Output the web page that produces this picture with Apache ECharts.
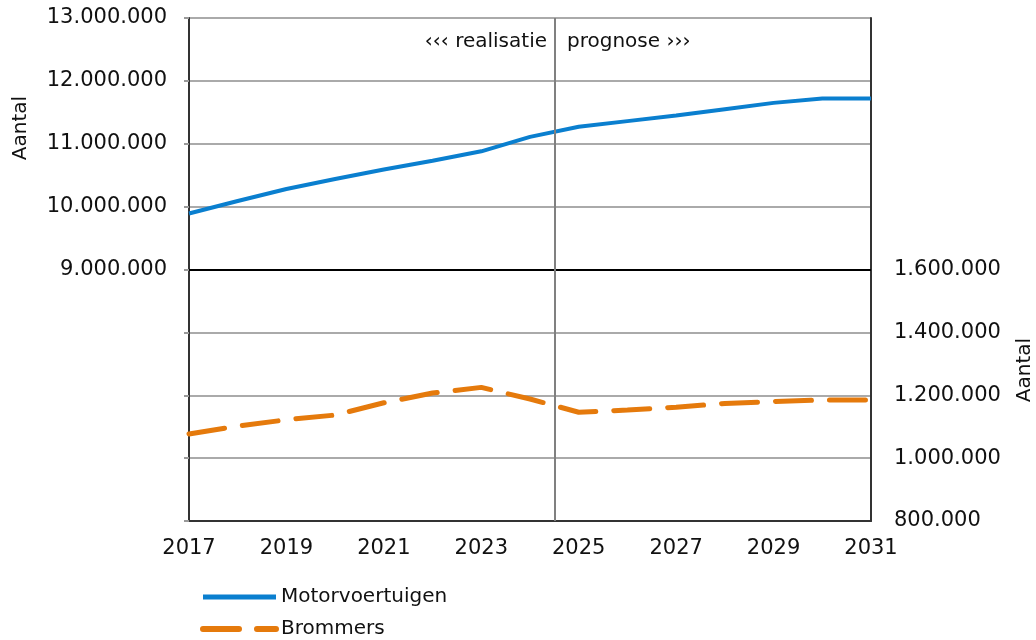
<!DOCTYPE html>
<html>
<head>
<meta charset="utf-8">
<script src="https://cdn.jsdelivr.net/npm/echarts@6/dist/echarts.min.js"></script>
<style>
html, body { margin: 0; padding: 0; background: #fff; }
#chart { width: 1036px; height: 640px; }
</style>
</head>
<body>
<div id="chart"></div>
<script>
var years = [2017, 2018, 2019, 2020, 2021, 2022, 2023, 2024, 2025, 2026, 2027, 2028, 2029, 2030, 2031];
var motorvoertuigen = [9890000, 10090000, 10280000, 10440000, 10590000, 10730000, 10880000, 11110000, 11270000, 11360000, 11450000, 11550000, 11650000, 11720000, 11720000];
var brommers = [1077000, 1102000, 1122000, 1137000, 1176000, 1207000, 1225000, 1188000, 1146000, 1153000, 1162000, 1174000, 1180000, 1185000, 1185000];
var splitYear = 2024.5;

var font = 'DejaVu Sans';
var txt = '#111';
var dom = document.getElementById('chart');
var myChart = echarts.init(dom);

function fmt(v) {
	return String(v).replace(/\B(?=(\d{3})+(?!\d))/g, '.');
}

var motorData = [], bromData = [];
for (var i = 0; i < years.length; i++) {
	motorData.push([years[i], motorvoertuigen[i]]);
	bromData.push([years[i], brommers[i]]);
}

var option = {
	animation: false,
	grid: { left: 189, right: 165, top: 18, bottom: 119 },
	legend: {
		orient: 'vertical',
		left: 200,
		top: 587,
		padding: 0,
		itemWidth: 73,
		itemHeight: 20,
		itemGap: 12,
		itemStyle: { color: 'transparent', borderColor: 'transparent', borderWidth: 0 },
		textStyle: { fontFamily: font, fontSize: 20, color: txt },
		data: [
			{ name: 'Motorvoertuigen', lineStyle: { width: 5 } },
			{ name: 'Brommers', lineStyle: { width: 6 } }
		]
	},
	xAxis: {
		type: 'value',
		min: 2017,
		max: 2031,
		interval: 2,
		axisLine: { lineStyle: { color: '#333', width: 2 } },
		axisTick: { show: false },
		splitLine: { show: false },
		axisLabel: { fontFamily: font, fontSize: 21, color: txt, margin: 17, formatter: function (v) { return String(v); } }
	},
	yAxis: [{
		type: 'value',
		min: 5000000,
		max: 13000000,
		interval: 1000000,
		axisLine: { show: true, lineStyle: { color: '#333', width: 2 } },
		axisTick: { show: true, length: 5, lineStyle: { color: '#999', width: 2 } },
		splitLine: { lineStyle: { color: '#aaa', width: 2 } },
		axisLabel: {
			fontFamily: font, fontSize: 21, color: txt, margin: 22,
			formatter: function (v) { return v >= 9000000 ? fmt(v) : ''; }
		}
	}, {
		type: 'value',
		min: 800000,
		max: 2400000,
		interval: 200000,
		position: 'right',
		axisLine: { show: true, lineStyle: { color: '#333', width: 2 } },
		axisTick: { show: false },
		splitLine: { show: false },
		axisLabel: {
			fontFamily: font, fontSize: 21, color: txt, margin: 23,
			formatter: function (v) { return v <= 1600000 ? fmt(v) : ''; }
		}
	}],
	graphic: [
		{ type: 'text', rotation: Math.PI / 2, x: 21, y: 128,
			style: { text: 'Aantal', font: '20px "DejaVu Sans"', fill: txt, align: 'center', verticalAlign: 'middle' } },
		{ type: 'text', rotation: Math.PI / 2, x: 1025, y: 370,
			style: { text: 'Aantal', font: '20px "DejaVu Sans"', fill: txt, align: 'center', verticalAlign: 'middle' } },
		{ type: 'text', x: 547, y: 42,
			style: { text: '\u2039\u2039\u2039 realisatie', font: '20px "DejaVu Sans"', fill: txt, align: 'right', verticalAlign: 'middle' } },
		{ type: 'text', x: 567, y: 42,
			style: { text: 'prognose \u203a\u203a\u203a', font: '20px "DejaVu Sans"', fill: txt, align: 'left', verticalAlign: 'middle' } }
	],
	series: [{
		name: 'Motorvoertuigen',
		type: 'line',
		yAxisIndex: 0,
		symbol: 'none',
		color: '#0a7fcf',
		lineStyle: { width: 4, color: '#0a7fcf' },
		data: motorData,
		markLine: {
			silent: true,
			symbol: 'none',
			label: { show: false },
			data: [
				{ yAxis: 9000000, lineStyle: { color: '#000', width: 2, type: 'solid' } },
				{ xAxis: splitYear, lineStyle: { color: '#808080', width: 2, type: 'solid' } }
			]
		}
	}, {
		name: 'Brommers',
		type: 'line',
		yAxisIndex: 1,
		symbol: 'none',
		color: '#e57a0c',
		lineStyle: { width: 5, color: '#e57a0c', type: [36, 18], cap: 'round' },
		data: bromData
	}]
};
myChart.setOption(option);
</script>
</body>
</html>
